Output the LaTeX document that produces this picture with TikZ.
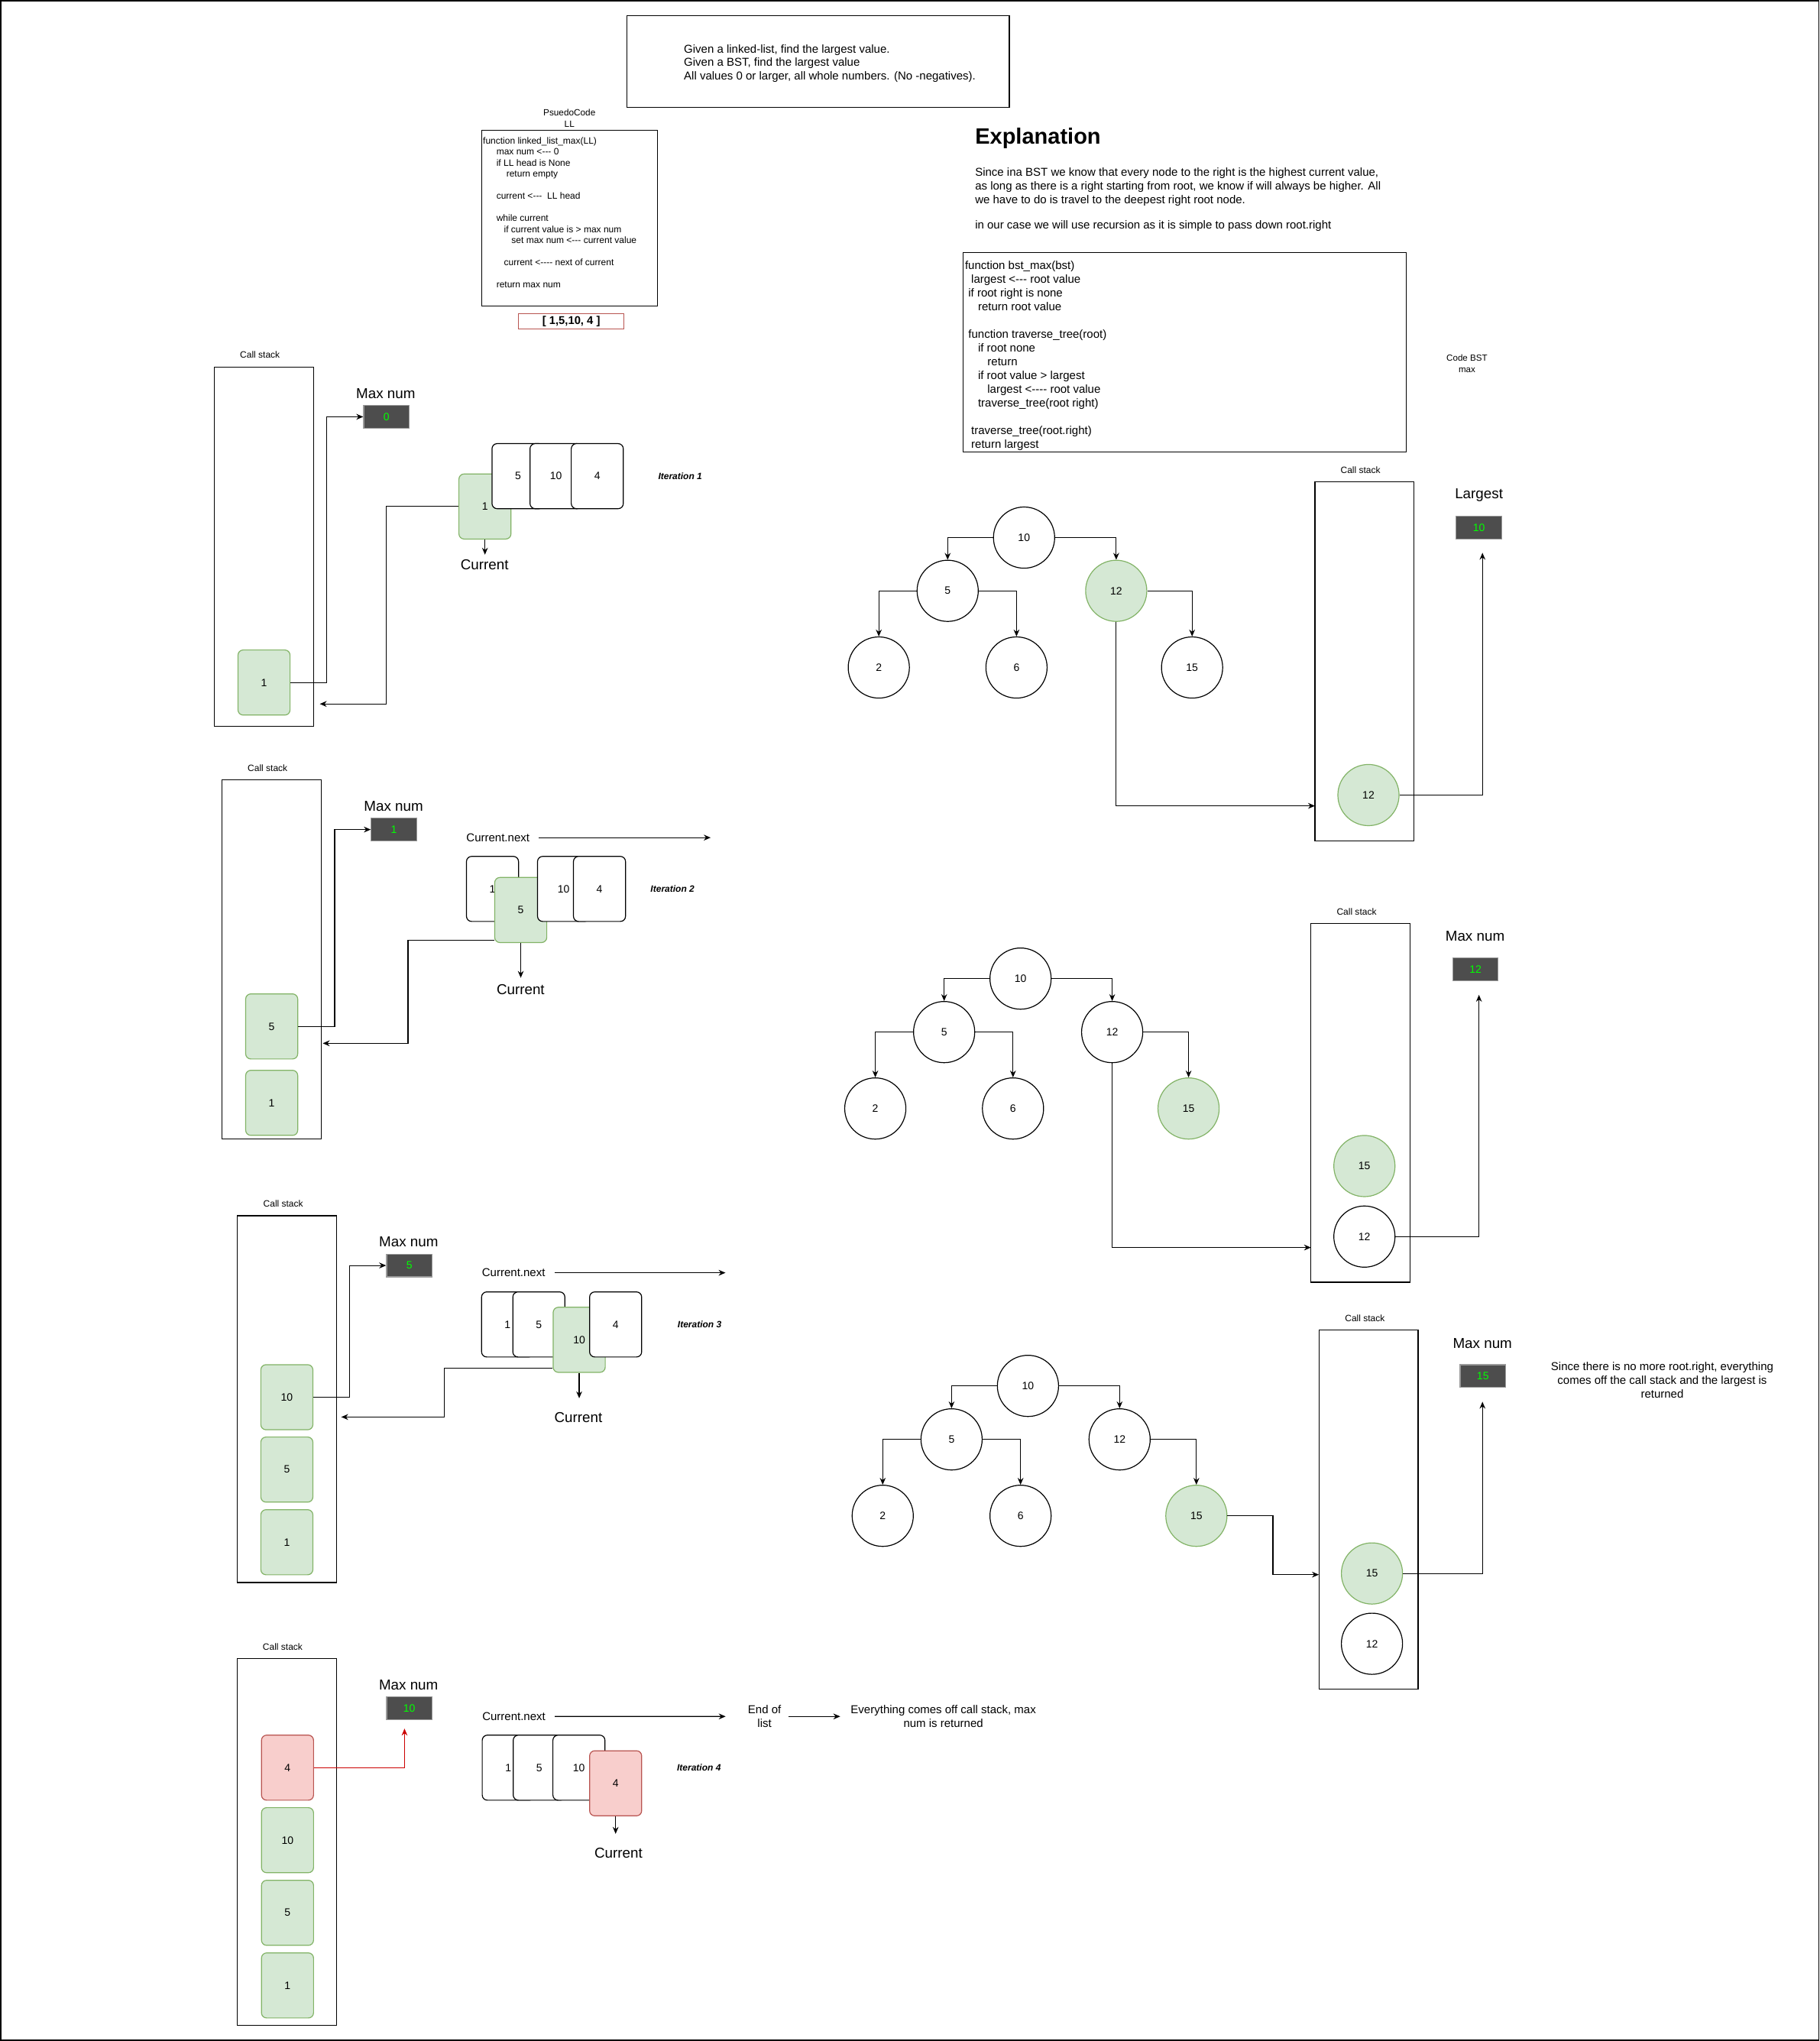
\documentclass[tikz,border=0pt]{standalone}
\usepackage{fontspec}
\setmainfont{Liberation Sans}
\usetikzlibrary{arrows.meta,fit}
\newlength\dpx \setlength\dpx{0.85155pt}
\newcommand\hy{-\kern0pt}
\definecolor{hitfill}{HTML}{D5E8D4}
\definecolor{hitline}{HTML}{82B366}
\definecolor{endfill}{HTML}{F8CECC}
\definecolor{endline}{HTML}{B85450}
\definecolor{maxfill}{HTML}{4D4D4D}
\definecolor{maxline}{HTML}{999999}
\definecolor{maxtext}{HTML}{00FF00}
\definecolor{endarr}{HTML}{CC0000}
\begin{document}
\begin{tikzpicture}[x=0.85155pt, y=-0.85155pt,
    arr/.style={-{Stealth[length=4.5pt,width=3.8pt]}, line width=0.6pt},
    stackbox/.style={draw, line width=0.6pt, inner sep=0pt},
    card/.style={draw, line width=0.6pt, fill=white, rounded corners=3.4pt, minimum width=40\dpx, minimum height=50\dpx, inner sep=0pt, font=\fontsize{7}{8}\selectfont},
    hitcard/.style={card, fill=hitfill, draw=hitline},
    endcard/.style={card, fill=endfill, draw=endline},
    maxbox/.style={draw=maxline, fill=maxfill, text=maxtext, line width=0.6pt, minimum width=35\dpx, minimum height=17.5\dpx, inner sep=0pt, font=\fontsize{7}{8}\selectfont},
    bnode/.style={circle, draw, line width=0.6pt, fill=white, minimum size=47\dpx, inner sep=0pt, font=\fontsize{7}{8}\selectfont},
    bhit/.style={bnode, fill=hitfill, draw=hitline},
    stacklbl/.style={inner sep=0pt, font=\fontsize{6}{7.5}\selectfont},
    bigtxt/.style={inner sep=0pt, font=\fontsize{9.4}{11}\selectfont},
    bodytxt/.style={inner sep=0pt, font=\fontsize{7.5}{8.9}\selectfont},
    itertxt/.style={inner sep=0pt, font=\fontsize{6}{7}\selectfont\bfseries\itshape}]
    \useasboundingbox (0,0) rectangle (1398,1568);
    % Frame
    \draw[line width=0.8pt] (0.5,0.5) rectangle (1397.5,1567.5);

    % Task
    \node[stackbox, fit={(481.7,12.1) (775.5,82.4)}] (task) {};
    \node[bodytxt, anchor=north west, align=left] (tasktxt) at (525.3,34) {Given a linked-list, find the largest value.\\Given a BST, find the largest value\\All values 0 or larger, all whole numbers. (No -negatives).};

    % Linked list pseudocode
    \node[stacklbl, align=center, font=\fontsize{5.9}{7.5}\selectfont] (llhead) at (437.5,91.1) {PsuedoCode\\LL};
    \node[stackbox, fit={(370,100) (505,235)}] (llbox) {};
    \node[inner sep=0pt, anchor=north west, align=left, font=\fontsize{6}{7.25}\selectfont] (llcode) at (370.9,105.2) {function linked\_list\_max(LL)\\
      \hspace*{8.8pt}max num <\hy\hy\hy{} 0\\
      \hspace*{8.8pt}if LL head is None\\
      \hspace*{15.3pt}return empty\\[7.25pt]
      \hspace*{8.8pt}current <\hy\hy\hy{} \ LL head\\[7.25pt]
      \hspace*{8.8pt}while current\\
      \hspace*{13.7pt}if current value is > max num\\
      \hspace*{18.6pt}set max num <\hy\hy\hy{} current value\\[7.25pt]
      \hspace*{13.7pt}current <\hy\hy\hy\hy{} next of current\\[7.25pt]
      \hspace*{8.8pt}return max num};
    \node[draw=endline, line width=0.6pt, minimum width=81\dpx, minimum height=11.7\dpx, inner sep=0pt, font=\fontsize{7.4}{8}\selectfont\bfseries] (llist) at (438.9,246.9) {[ 1,5,10, 4 ]};

    % Explanation
    \node[inner sep=0pt, anchor=base west, font=\fontsize{14.5}{17}\selectfont\bfseries] (expl) at (749,110.6) {Explanation};
    \node[bodytxt, anchor=north west, align=left] (expltxt) at (749,128.8) {Since ina BST we know that every node to the right is the highest current value,\\as long as there is a right starting from root, we know if will always be higher. All\\we have to do is travel to the deepest right root node.};
    \node[bodytxt, anchor=north west] (expltail) at (749,169.4) {in our case we will use recursion as it is simple to pass down root.right};

    % BST pseudocode
    \node[stackbox, fit={(740.1,194.2) (1080.6,347)}] (bstbox) {};
    \node[inner sep=0pt, anchor=north west, align=left, font=\fontsize{7.5}{9}\selectfont] (bstcode) at (741.2,200.4) {function bst\_max(bst)\\
      \hspace*{4.1pt}largest <\hy\hy\hy{} root value\\
      \hspace*{2.2pt}if root right is none\\
      \hspace*{8.5pt}return root value\\[9pt]
      \hspace*{2.2pt}function traverse\_tree(root)\\
      \hspace*{8.5pt}if root none\\
      \hspace*{14.7pt}return\\
      \hspace*{8.5pt}if root value > largest\\
      \hspace*{14.7pt}largest <\hy\hy\hy\hy{} root value\\
      \hspace*{8.5pt}traverse\_tree(root right)\\[9pt]
      \hspace*{4.1pt}traverse\_tree(root.right)\\
      \hspace*{4.1pt}return largest};
    \node[inner sep=0pt, align=center, font=\fontsize{5.8}{7.5}\selectfont] (bsthead) at (1127.1,279.4) {Code BST\\max};

    % Iteration 1
    \node[stacklbl] (cl1) at (199.7,272.6) {Call stack};
    \node[stackbox, fit={(164.7,282.2) (241,557.8)}] (cs1) {};
    \node[bigtxt] (mx1) at (296.4,302.2) {Max num};
    \node[maxbox] (max1) at (296.9,320.2) {0};
    \node[hitcard] (s1a) at (202.85,524.35) {1};
    \node[hitcard] (g1) at (372.6,389.1) {1};
    \node[card] (l1b) at (398,365.8) {5};
    \node[card] (l1c) at (427.2,365.8) {10};
    \node[card] (l1d) at (458.9,365.8) {4};
    \node[bigtxt] (cur1) at (372.3,434.1) {Current};
    \node[itertxt] (it1) at (522.6,365.6) {Iteration 1};
    \coordinate (cur1t) at (372.6,426.1);
    \coordinate (ret1) at (245.7,540.8);
    \draw[arr] (s1a.east) -- (251,524.35) |- (max1.west);
    \draw[arr] (g1.south) -- (cur1t);
    \draw[arr] (g1.west) -| (296.8,540.8) -- (ret1);

    % Iteration 2
    \node[stacklbl] (cl2) at (205.6,589.9) {Call stack};
    \node[stackbox, fit={(170.6,599.3) (246.9,875)}] (cs2) {};
    \node[bigtxt] (mx2) at (302.4,619.5) {Max num};
    \node[maxbox] (max2) at (302.7,637.3) {1};
    \node[hitcard] (s2a) at (208.75,788.55) {5};
    \node[hitcard] (s2b) at (208.75,847.25) {1};
    \node[bodytxt] (nx2) at (382.6,643.5) {Current.next};
    \node[card] (l2a) at (378.4,682.9) {1};
    \node[hitcard] (g2) at (400.1,699.1) {5};
    \node[card] (l2c) at (433,682.9) {10};
    \node[card] (l2d) at (460.6,682.9) {4};
    \node[bigtxt] (cur2) at (400,760) {Current};
    \node[itertxt] (it2) at (516.7,682.7) {Iteration 2};
    \coordinate (nx2t) at (546,643.5);
    \coordinate (cur2t) at (400.1,751.2);
    \coordinate (ret2) at (248,801.5);
    \draw[arr] (s2a.east) -- (257.1,788.55) |- (max2.west);
    \draw[arr, shorten <=6pt] (nx2.east) -- (nx2t);
    \draw[arr] (g2.south) -- (cur2t);
    \draw[arr] ([yshift=-23.1\dpx]g2.west) -| (313.5,801.5) -- (ret2);

    % Iteration 3
    \node[stacklbl] (cl3) at (217.6,924.6) {Call stack};
    \node[stackbox, fit={(182.3,934) (258.5,1215.7)}] (cs3) {};
    \node[bigtxt] (mx3) at (314,954.1) {Max num};
    \node[maxbox] (max3) at (314.5,972.2) {5};
    \node[hitcard] (s3a) at (220.4,1073.4) {10};
    \node[hitcard] (s3b) at (220.4,1129) {5};
    \node[hitcard] (s3c) at (220.4,1184.8) {1};
    \node[bodytxt] (nx3) at (394.6,977.8) {Current.next};
    \node[card] (l3a) at (390,1017.5) {1};
    \node[card] (l3b) at (414,1017.5) {5};
    \node[hitcard] (g3) at (445,1029.3) {10};
    \node[card] (l3d) at (473,1017.5) {4};
    \node[bigtxt] (cur3) at (444.4,1089) {Current};
    \node[itertxt] (it3) at (537.5,1017.5) {Iteration 3};
    \coordinate (nx3t) at (557.4,977.8);
    \coordinate (cur3t) at (445,1074.2);
    \coordinate (ret3) at (262.2,1088.6);
    \draw[arr] (s3a.east) -- (268.8,1073.4) |- (max3.west);
    \draw[arr, shorten <=6pt] (nx3.east) -- (nx3t);
    \draw[arr] (g3.south) -- (cur3t);
    \draw[arr] ([yshift=-21.7\dpx]g3.west) -| (341.4,1088.6) -- (ret3);

    % Iteration 4
    \node[stacklbl] (cl4) at (217.2,1264.9) {Call stack};
    \node[stackbox, fit={(182.3,1274.3) (258.7,1556)}] (cs4) {};
    \node[bigtxt] (mx4) at (313.9,1294.7) {Max num};
    \node[maxbox] (max4) at (314.5,1312.5) {10};
    \node[endcard] (r4s) at (220.9,1358) {4};
    \node[hitcard] (s4b) at (220.9,1413.7) {10};
    \node[hitcard] (s4c) at (220.9,1469.5) {5};
    \node[hitcard] (s4d) at (220.9,1525.3) {1};
    \node[bodytxt] (nx4) at (394.8,1318.6) {Current.next};
    \node[bodytxt, align=center, font=\fontsize{7.5}{9.1}\selectfont] (eol) at (587.4,1318.65) {End of\\list};
    \node[bodytxt, align=center, font=\fontsize{7.5}{9.1}\selectfont] (evr) at (724.8,1318.65) {Everything comes off call stack, max\\num is returned};
    \node[card] (l4a) at (390.5,1358) {1};
    \node[card] (l4b) at (414.3,1358) {5};
    \node[card] (l4c) at (444.8,1358) {10};
    \node[endcard] (r4) at (473,1370) {4};
    \node[bigtxt] (cur4) at (475.2,1423.5) {Current};
    \node[itertxt] (it4) at (537,1357.9) {Iteration 4};
    \coordinate (cur4t) at (473,1408.8);
    \coordinate (up4) at (310.8,1328);
    \draw[arr, endarr] (r4s.east) -| (up4);
    \draw[arr, shorten <=6pt, shorten >=14.4pt] (nx4.east) -- (eol.west);
    \draw[arr, shorten <=4.6pt, shorten >=6.7pt] (eol.east) -- (evr.west);
    \draw[arr] (r4.south) -- (cur4t);

    % BST step 1
    \node[bnode] (t1a) at (786.8,413) {10};
    \node[bnode] (t1b) at (728.1,453.9) {5};
    \node[bhit] (t1c) at (857.6,453.9) {12};
    \node[bnode] (t1d) at (675.2,512.8) {2};
    \node[bnode] (t1e) at (781,512.8) {6};
    \node[bnode] (t1f) at (915.9,512.8) {15};
    \draw[arr] (t1a.west) -| (t1b.north);
    \draw[arr] (t1a.east) -| (t1c.north);
    \draw[arr] (t1b.west) -| (t1d.north);
    \draw[arr] (t1b.east) -| (t1e.north);
    \draw[arr] (t1c.east) -| (t1f.north);
    \node[stacklbl] (cl5) at (1045.3,360.9) {Call stack};
    \node[stackbox, fit={(1010.3,370.1) (1086.4,645.9)}] (cs5) {};
    \node[bigtxt] (lg5) at (1136.3,380.3) {Largest};
    \node[maxbox] (max5) at (1136.3,405.4) {10};
    \node[bhit] (k1a) at (1051.4,610.8) {12};
    \coordinate (in5) at (1010.3,619.1);
    \coordinate (up5) at (1139,424.7);
    \draw[arr] (t1c.south) |- (in5);
    \draw[arr] (k1a.east) -| (up5);

    % BST step 2
    \node[bnode] (t2a) at (784.1,751.8) {10};
    \node[bnode] (t2b) at (725.4,792.9) {5};
    \node[bnode] (t2c) at (854.5,792.9) {12};
    \node[bnode] (t2d) at (672.5,851.6) {2};
    \node[bnode] (t2e) at (778.3,851.6) {6};
    \node[bhit] (t2f) at (913.2,851.6) {15};
    \draw[arr] (t2a.west) -| (t2b.north);
    \draw[arr] (t2a.east) -| (t2c.north);
    \draw[arr] (t2b.west) -| (t2d.north);
    \draw[arr] (t2b.east) -| (t2e.north);
    \draw[arr] (t2c.east) -| (t2f.north);
    \node[stacklbl] (cl6) at (1042.3,700.3) {Call stack};
    \node[stackbox, fit={(1007.2,709.3) (1083.4,985.1)}] (cs6) {};
    \node[bigtxt] (mx6) at (1133.3,719.3) {Max num};
    \node[maxbox] (max6) at (1133.6,744.5) {12};
    \node[bhit] (k2a) at (1048.3,895.8) {15};
    \node[bnode] (k2b) at (1048.3,950) {12};
    \coordinate (in6) at (1007.2,958.4);
    \coordinate (up6) at (1136.3,764.3);
    \draw[arr] (t2c.south) |- (in6);
    \draw[arr] (k2b.east) -| (up6);

    % BST step 3
    \node[bnode] (t3a) at (789.8,1064.7) {10};
    \node[bnode] (t3b) at (731.1,1105.8) {5};
    \node[bnode] (t3c) at (860.2,1105.8) {12};
    \node[bnode] (t3d) at (678.2,1164.5) {2};
    \node[bnode] (t3e) at (784.1,1164.5) {6};
    \node[bhit] (t3f) at (919.2,1164.5) {15};
    \draw[arr] (t3a.west) -| (t3b.north);
    \draw[arr] (t3a.east) -| (t3c.north);
    \draw[arr] (t3b.west) -| (t3d.north);
    \draw[arr] (t3b.east) -| (t3e.north);
    \draw[arr] (t3c.east) -| (t3f.north);
    \node[stacklbl] (cl7) at (1048.7,1012.7) {Call stack};
    \node[stackbox, fit={(1013.3,1021.9) (1089.5,1297.8)}] (cs7) {};
    \node[bigtxt] (mx7) at (1139,1032) {Max num};
    \node[maxbox] (max7) at (1139.3,1057.2) {15};
    \node[bhit] (k3a) at (1054.1,1208.8) {15};
    \node[bnode] (k3b) at (1054.1,1262.8) {12};
    \coordinate (in7) at (1013.3,1209.7);
    \coordinate (up7) at (1139,1076.9);
    \draw[arr] (t3f.east) -| (978,1209.7) -- (in7);
    \draw[arr] (k3a.east) -| (up7);
    \node[bodytxt, align=center, font=\fontsize{7.5}{8.95}\selectfont] (endnote) at (1277.1,1060.5) {Since there is no more root.right, everything\\comes off the call stack and the largest is\\returned};
\end{tikzpicture}
\end{document}
